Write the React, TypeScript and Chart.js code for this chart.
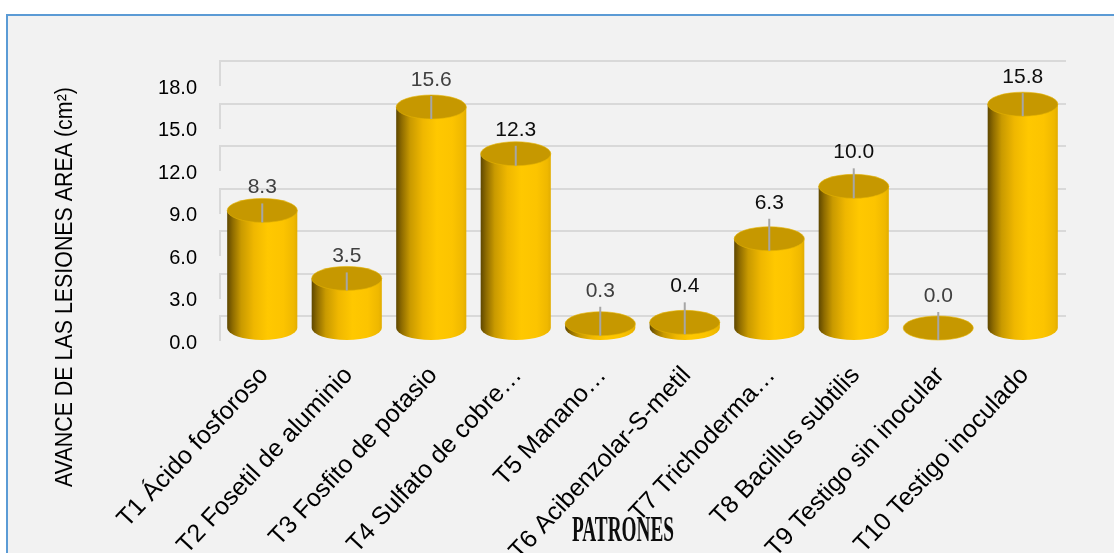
import React, { useEffect, useRef } from 'react';
import { Chart, registerables } from 'chart.js';

Chart.register(...registerables);

// ---- data ----
const categories = [
  'T1 Ácido fosforoso',
  'T2 Fosetil de aluminio',
  'T3 Fosfito de potasio',
  'T4 Sulfato de cobre…',
  'T5 Manano…',
  'T6 Acibenzolar-S-metil',
  'T7 Trichoderma…',
  'T8 Bacillus subtilis',
  'T9 Testigo sin inocular',
  'T10 Testigo inoculado',
];
const lesionArea = [8.3, 3.5, 15.6, 12.3, 0.3, 0.4, 6.3, 10.0, 0.0, 15.8];
const yTicks = [0, 3, 6, 9, 12, 15, 18];
const yTitle = 'AVANCE DE LAS LESIONES AREA (cm²)';
const xTitle = 'PATRONES';

// ---- styles ----
const labelLift = [17, 16, 21, 18, 27, 30, 30, 28, 26, 21];
const labelDark = [false, false, false, true, false, true, true, true, false, true];
const GRID_SHIFT = -12;

function drawCylinder(ctx: CanvasRenderingContext2D, cx: number, rx: number, ry: number, yTop: number, yBase: number) {
  const h = yBase - yTop;
  if (h > 0.5) {
    const g = ctx.createLinearGradient(cx - rx, 0, cx + rx, 0);
    g.addColorStop(0, '#5e4700');
    g.addColorStop(0.08, '#8f6c00');
    g.addColorStop(0.2, '#c99a00');
    g.addColorStop(0.38, '#efb700');
    g.addColorStop(0.58, '#ffc800');
    g.addColorStop(0.8, '#fcc400');
    g.addColorStop(0.95, '#efb800');
    g.addColorStop(1, '#e2ad00');
    ctx.beginPath();
    ctx.moveTo(cx - rx, yTop);
    ctx.lineTo(cx - rx, yBase);
    ctx.ellipse(cx, yBase, rx, ry, 0, Math.PI, 0, true);
    ctx.lineTo(cx + rx, yTop);
    ctx.closePath();
    ctx.fillStyle = g;
    ctx.fill();
  }
  ctx.beginPath();
  ctx.ellipse(cx, yTop, rx, ry, 0, 0, Math.PI * 2);
  ctx.fillStyle = '#c69800';
  ctx.fill();
  ctx.lineWidth = 1;
  ctx.strokeStyle = 'rgba(230,180,0,0.6)';
  ctx.stroke();
}

const cylinderPlugin = {
  id: 'cylinders',
  beforeDraw(chart: any) {
    const { ctx, width, height, chartArea } = chart;
    const ys = chart.scales.y;
    ctx.save();
    ctx.fillStyle = '#ffffff';
    ctx.fillRect(0, 0, width, height);
    ctx.fillStyle = '#f2f2f2';
    ctx.fillRect(7, 15, width - 7, height - 15);
    ctx.strokeStyle = '#5b9bd5';
    ctx.lineWidth = 2;
    ctx.beginPath();
    ctx.moveTo(7, height);
    ctx.lineTo(7, 15);
    ctx.lineTo(width, 15);
    ctx.stroke();
    ctx.strokeStyle = '#d9d9d9';
    ctx.lineWidth = 2;
    for (const t of yTicks) {
      const py = Math.round(ys.getPixelForValue(t) + GRID_SHIFT);
      ctx.beginPath();
      ctx.moveTo(chartArea.left, py + 25);
      ctx.lineTo(chartArea.left, py);
      ctx.lineTo(chartArea.right + 1, py);
      ctx.stroke();
    }
    ctx.restore();
  },
  afterDatasetsDraw(chart: any) {
    const { ctx } = chart;
    const meta = chart.getDatasetMeta(0);
    const ys = chart.scales.y;
    const base = ys.getPixelForValue(0);
    ctx.save();
    meta.data.forEach((bar: any, i: number) => {
      const rx = bar.width / 2;
      const ry = 12;
      const yTop = bar.y;
      drawCylinder(ctx, bar.x, rx, ry, yTop, base);
      const textBottom = yTop - labelLift[i];
      ctx.strokeStyle = '#a6a6a6';
      ctx.lineWidth = 2;
      ctx.beginPath();
      ctx.moveTo(bar.x, textBottom + 10);
      ctx.lineTo(bar.x, yTop + 12);
      ctx.stroke();
      ctx.fillStyle = labelDark[i] ? '#0d0d0d' : '#404040';
      ctx.font = '21px "Liberation Sans", Arial, sans-serif';
      ctx.textAlign = 'center';
      ctx.textBaseline = 'alphabetic';
      ctx.fillText(lesionArea[i].toFixed(1), bar.x, textBottom);
    });
    ctx.restore();
  },
  afterDraw(chart: any) {
    const { ctx } = chart;
    ctx.save();
    ctx.translate(72, 287);
    ctx.rotate(-Math.PI / 2);
    ctx.scale(0.93, 1);
    ctx.fillStyle = '#000000';
    ctx.font = '23px "Liberation Sans", Arial, sans-serif';
    ctx.textAlign = 'center';
    ctx.textBaseline = 'alphabetic';
    ctx.fillText(yTitle, 0, 0);
    ctx.restore();
    ctx.save();
    ctx.translate(623, 541);
    ctx.scale(0.535, 1);
    ctx.fillStyle = '#0d0d0d';
    ctx.font = 'bold 36px "Liberation Serif", "DejaVu Serif", serif';
    ctx.textAlign = 'center';
    ctx.textBaseline = 'alphabetic';
    ctx.fillText(xTitle, 0, 0);
    ctx.restore();
  },
};

export default function App() {
  const ref = useRef<HTMLCanvasElement | null>(null);
  useEffect(() => {
    if (!ref.current) return;
    const chart = new Chart(ref.current, {
      type: 'bar',
      data: {
        labels: categories,
        datasets: [
          {
            label: 'Avance',
            data: lesionArea,
            backgroundColor: 'rgba(0,0,0,0)',
            borderWidth: 0,
            categoryPercentage: 1,
            barPercentage: 0.83,
          },
        ],
      },
      options: {
        responsive: false,
        animation: false,
        layout: { padding: { top: 73, right: 49, left: 0, bottom: 0 } },
        plugins: {
          legend: { display: false },
          tooltip: { enabled: false },
          title: { display: false },
        },
        scales: {
          x: {
            grid: { display: false, drawTicks: false },
            border: { display: false },
            ticks: {
              autoSkip: false,
              minRotation: 47,
              maxRotation: 47,
              padding: 33,
              labelOffset: 2,
              color: '#000000',
              font: { family: '"Liberation Sans", Arial, sans-serif', size: 25 },
            },
            afterFit: (s: any) => {
              s.height = 553 - 328;
            },
          },
          y: {
            min: 0,
            max: 18,
            afterBuildTicks: (s: any) => {
              s.ticks = yTicks.map((v) => ({ value: v }));
            },
            grid: { display: false, drawTicks: false },
            border: { display: false },
            ticks: {
              padding: 23,
              labelOffset: 15,
              color: '#000000',
              font: { family: '"Liberation Sans", Arial, sans-serif', size: 20 },
              callback: (v: any) => Number(v).toFixed(1),
            },
            afterFit: (s: any) => {
              s.width = 220;
            },
          },
        },
      },
      plugins: [cylinderPlugin],
    });
    return () => chart.destroy();
  }, []);
  return (
    <div style={{ position: 'fixed', left: 0, top: 0, width: 1114, height: 553 }}>
      <canvas ref={ref} width={1114} height={553} style={{ display: 'block' }} />
    </div>
  );
}
